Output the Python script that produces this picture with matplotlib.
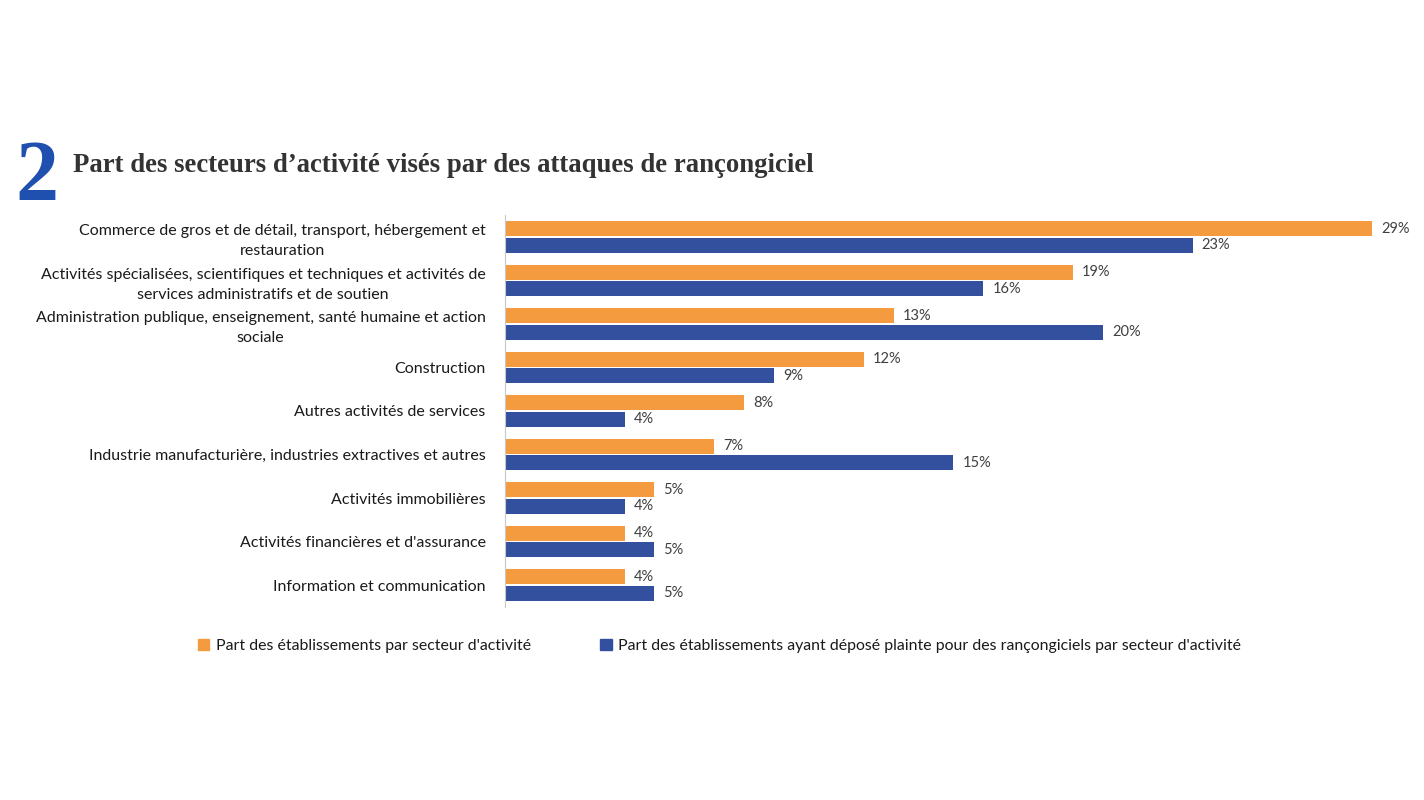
import matplotlib.pyplot as plt
from matplotlib.patches import Patch

# data
secteurs = [
    "Commerce de gros et de détail, transport, hébergement et\nrestauration",
    "Activités spécialisées, scientifiques et techniques et activités de\nservices administratifs et de soutien",
    "Administration publique, enseignement, santé humaine et action\nsociale",
    "Construction",
    "Autres activités de services",
    "Industrie manufacturière, industries extractives et autres",
    "Activités immobilières",
    "Activités financières et d'assurance",
    "Information et communication",
]
part_etab = [29, 19, 13, 12, 8, 7, 5, 4, 4]
part_plainte = [23, 16, 20, 9, 4, 15, 4, 5, 5]
lab_etab = "Part des établissements par secteur d'activité"
lab_plainte = "Part des établissements ayant déposé plainte pour des rançongiciels par secteur d'activité"

orange = "#F39B3E"
bleu = "#33509F"
txt = "#1a1a1a"

plt.rcParams['font.family'] = ['Lato', 'DejaVu Sans']

W, H = 1424, 800
fig = plt.figure(figsize=(W/100, H/100), dpi=100)
ax = fig.add_axes([505/W, 1-607/H, (1372-505)/W, (607-215)/H])

y = list(range(len(secteurs)))
off = 0.19
hb = 0.345
ax.barh([i - off for i in y], part_etab, height=hb, color=orange)
ax.barh([i + off for i in y], part_plainte, height=hb, color=bleu)
ax.set_ylim(len(secteurs) - 0.5, -0.5)
ax.set_xlim(0, 29)

for i in y:
    ax.text(part_etab[i] + 0.3, i - off, f"{part_etab[i]}%", va='center', ha='left',
            fontsize=10.5, color="#404040", clip_on=False)
    ax.text(part_plainte[i] + 0.3, i + off, f"{part_plainte[i]}%", va='center', ha='left',
            fontsize=10.5, color="#404040", clip_on=False)

ax.set_yticks(y)
ax.set_yticklabels(secteurs, fontsize=11.5, color=txt, multialignment='center',
                   linespacing=1.55)
ax.tick_params(axis='y', length=0, pad=14)
ax.set_xticks([])
for s in ['top', 'right', 'bottom']:
    ax.spines[s].set_visible(False)
ax.spines['left'].set_color("#C8C8C8")

# titre
fig.text(15/W, 1-180/H, "2", fontsize=62, fontweight='bold', color="#1F4FAF",
         family='Liberation Serif', va='center', ha='left')
fig.text(73/W, 1-166/H, "Part des secteurs d\u2019activité visés par des attaques de rançongiciel",
         fontsize=19.3, fontweight='bold', color="#333333", family='Liberation Serif',
         va='center', ha='left')

handles = [Patch(color=orange, label=lab_etab), Patch(color=bleu, label=lab_plainte)]
fig.legend(handles=handles, loc='center left', bbox_to_anchor=(184/W, 1-646/H), ncol=2,
           frameon=False, fontsize=11.4, handlelength=0.7, handleheight=0.7,
           handletextpad=0.4, columnspacing=4.4, labelcolor=txt)

fig.savefig("out.png", dpi=100)
